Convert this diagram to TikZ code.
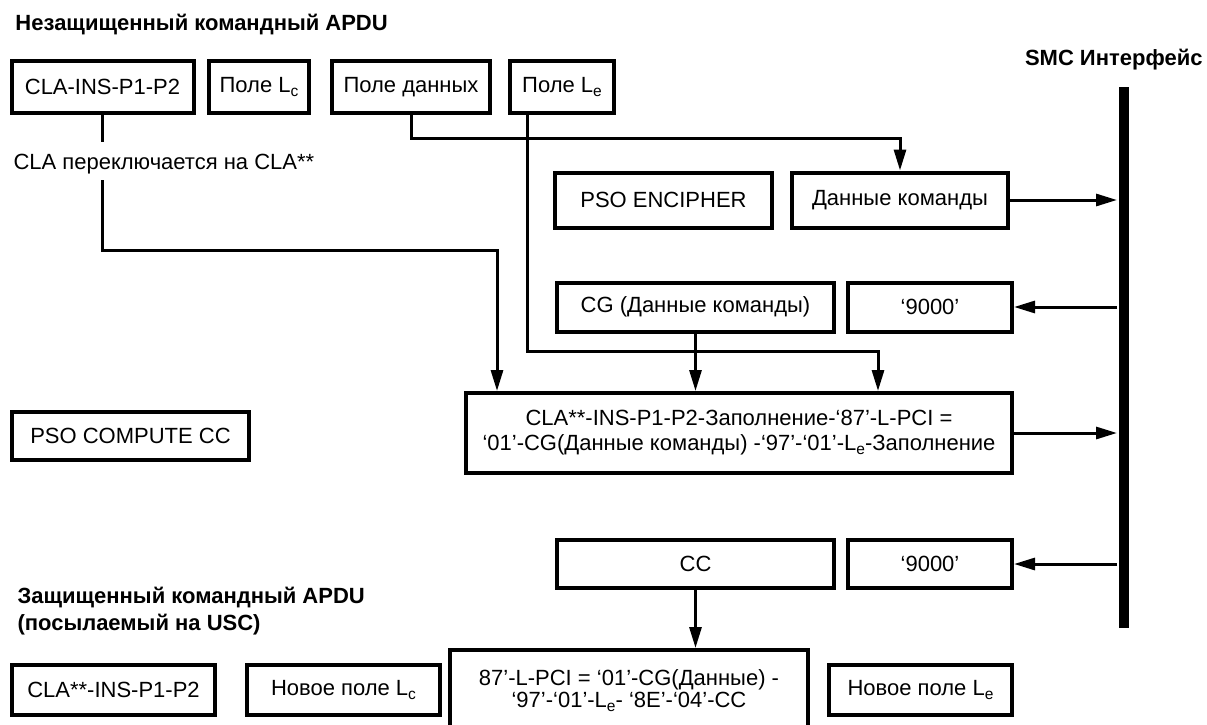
\documentclass[tikz,border=0pt]{standalone}
\usepackage{fontspec}
\setmainfont{Liberation Sans}
\usetikzlibrary{arrows.meta}
\newcommand{\Lsub}[1]{L\raisebox{-0.35ex}{\fontsize{15.5}{16}\selectfont #1}}

\begin{document}
\begin{tikzpicture}[x=1pt, y=-1pt, line width=3pt, >={Triangle[length=21pt,width=12pt]}]
	\tikzstyle{field}=[draw, line width=4pt, inner sep=0pt, minimum height=51pt, font=\fontsize{22}{25}\selectfont]
	\tikzstyle{title}=[anchor=west, inner sep=0pt, align=left, font=\fontsize{22}{27}\selectfont\bfseries]
	\tikzstyle{annot}=[anchor=west, inner sep=0pt, font=\fontsize{22}{25}\selectfont]

	\useasboundingbox[fill=white] (0,0) rectangle (1207,725);

	% Draw the unprotected command APDU
	\node[title] (t1) at (14,25) {Незащищенный командный APDU};
	\foreach \name / \x / \w / \txt in {cla/102.5/182/CLA-INS-P1-P2, lc/259/100/Поле \Lsub{c}, data/411/158/Поле данных, le/562/104/Поле \Lsub{e}}
	\node[field, minimum width=\w pt] (\name) at (\x,87) {\txt};
	\node[annot] (sw) at (12,164) {CLA переключается на CLA**};

	% Draw the SMC interface
	\node[title, anchor=east] (smc) at (1204,60) {SMC Интерфейс};
	\node[fill, inner sep=0pt, minimum width=10pt, minimum height=541pt] (bar) at (1123.5,357.5) {};

	% Draw the commands and the responses
	\node[field, minimum width=217pt, minimum height=55pt] (enc) at (663.5,200) {PSO ENCIPHER};
	\node[field, minimum width=216pt, minimum height=55pt] (cmd) at (900,200) {Данные команды};
	\node[field, minimum width=277pt, minimum height=49pt] (cg) at (695.5,307) {CG (Данные команды)};
	\node[field, minimum width=164pt, minimum height=49pt] (ok1) at (930,307) {‘9000’};
	\node[field, minimum width=546pt, minimum height=80pt, align=center] (pci) at (739,433)
	{CLA**-INS-P1-P2-Заполнение-‘87’-L-PCI =\\‘01’-CG(Данные команды) -‘97’-‘01’-\Lsub{e}-Заполнение};
	\node[field, minimum width=237pt, minimum height=48pt] (cmp) at (130.5,436) {PSO COMPUTE CC};
	\node[field, minimum width=277pt, minimum height=48pt] (cc) at (695.5,564) {CC};
	\node[field, minimum width=164pt, minimum height=48pt] (ok2) at (930,564) {‘9000’};

	% Draw the protected command APDU
	\node[title] (t2) at (16,611.5) {Защищенный командный APDU\\(посылаемый на USC)};
	\foreach \name / \x / \w / \txt in {cla2/113.5/203/CLA**-INS-P1-P2, lc2/343.5/193/Новое поле \Lsub{c}, le2/920.5/183/Новое поле \Lsub{e}}
	\node[field, minimum width=\w pt, minimum height=50pt] (\name) at (\x,690) {\txt};
	\node[field, minimum width=358pt, minimum height=84pt, anchor=north] (pcc) at (629,648)
	{\raisebox{11pt}{\renewcommand{\arraystretch}{0.9}\begin{tabular}{@{}c@{}}87’-L-PCI = ‘01’-CG(Данные) -\\‘97’-‘01’-\Lsub{e}- ‘8E’-‘04’-CC\end{tabular}}};

	% Connect the fields
	\coordinate (s1) at (102.5,142);
	\coordinate (s2) at (102.5,180);
	\coordinate (k1) at (497,250);
	\coordinate (k3) at (878,351);
	\draw (cla.south) -- (s1);
	\draw[->] (s2) |- (k1) -- (k1 |- pci.north);
	\draw[->] (data.south) |- ([yshift=32pt]cmd.north) -- (cmd.north);
	\draw[->] ([xshift=19pt]le.south west) |- (k3) -- (k3 |- pci.north);
	\draw[->] (cg.south) -- (cg.south |- pci.north);
	\draw[->] (cc.south) -- (cc.south |- pcc.north);

	% Connect the interface
	\draw[->] (cmd.east) -- (cmd.east -| bar.west);
	\draw[->] (ok1.east -| bar.west) -- (ok1.east);
	\draw[->] (pci.east) -- (pci.east -| bar.west);
	\draw[->] (ok2.east -| bar.west) -- (ok2.east);

\end{tikzpicture}
\end{document}
